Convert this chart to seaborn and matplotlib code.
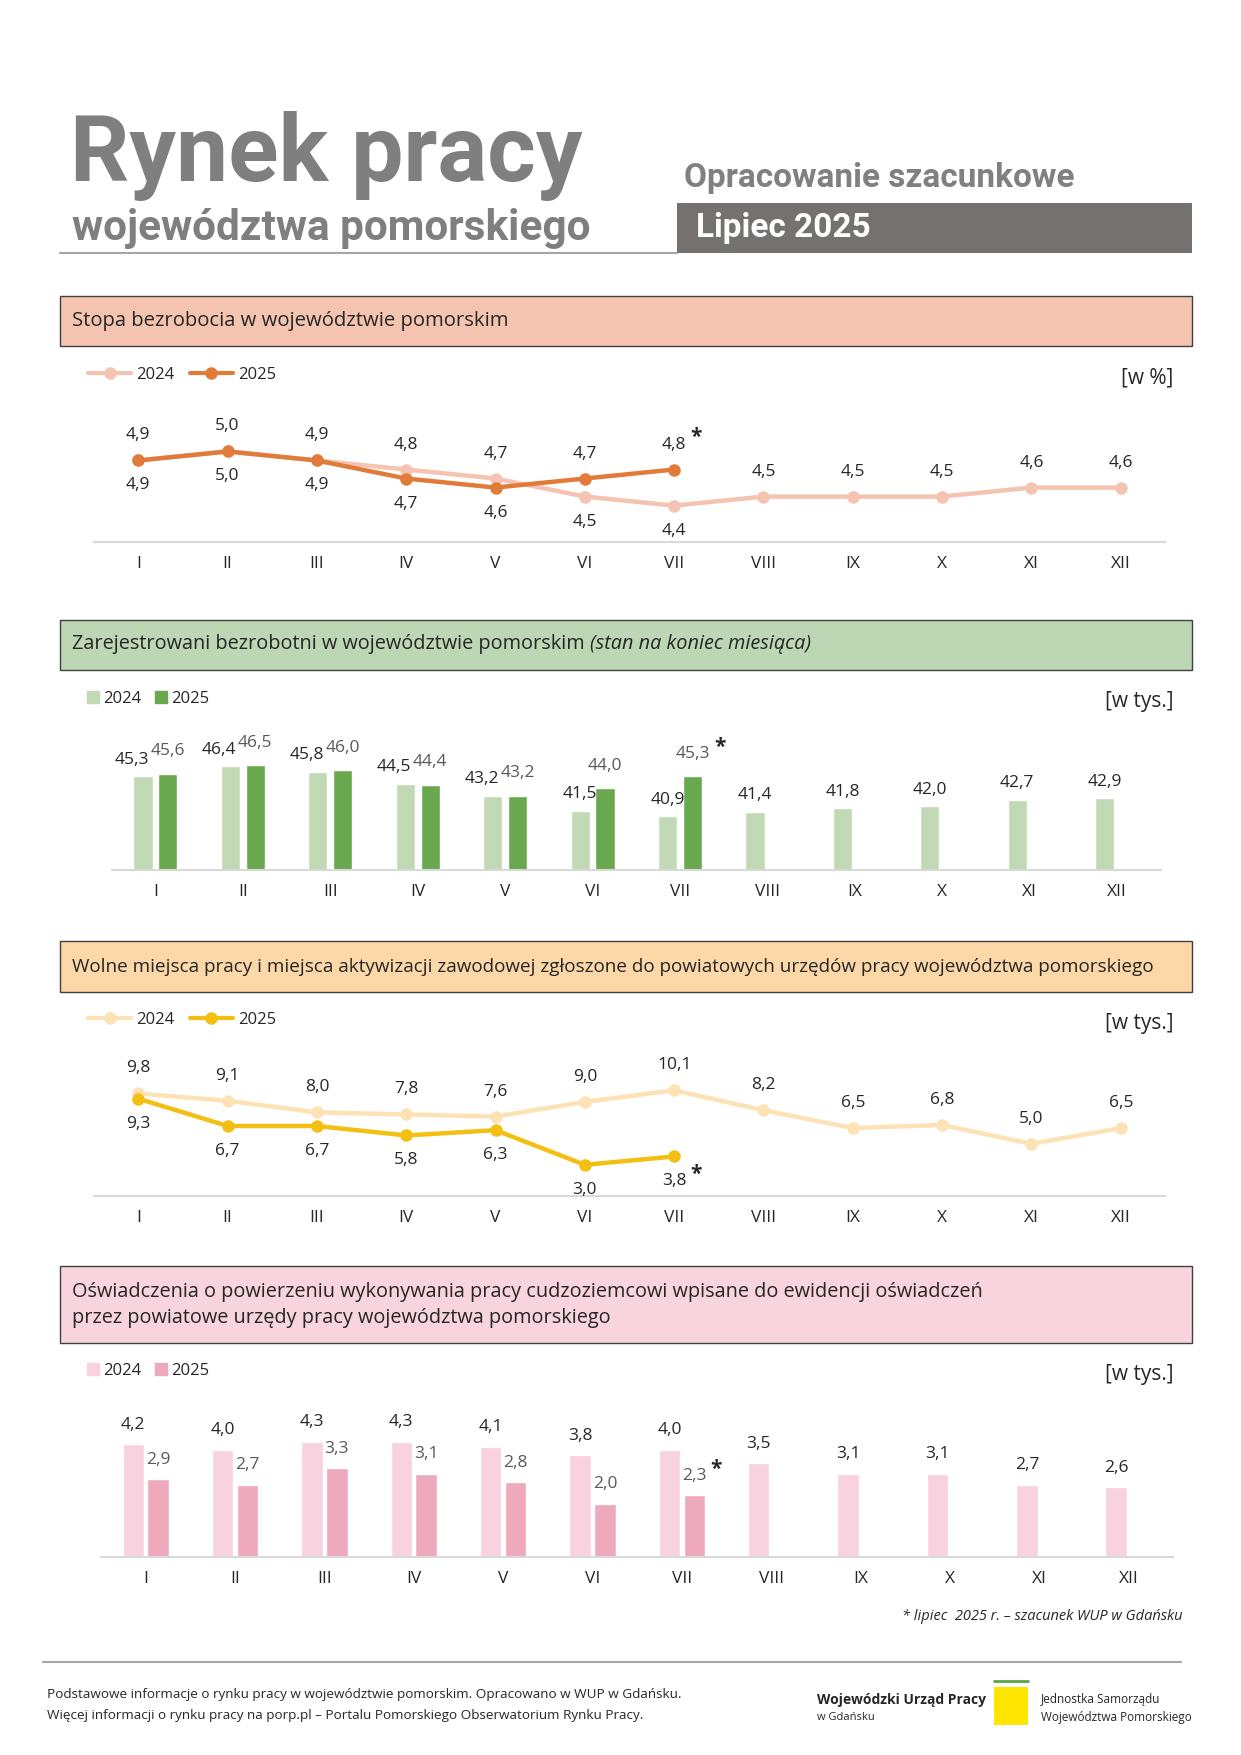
import matplotlib
matplotlib.use('Agg')
import matplotlib.pyplot as plt
from matplotlib.patches import Rectangle
from matplotlib.lines import Line2D
import numpy as np
import pandas as pd
import seaborn as sns

# === Data ===
months = ['I', 'II', 'III', 'IV', 'V', 'VI', 'VII', 'VIII', 'IX', 'X', 'XI', 'XII']
years = ['2024', '2025']

rate_2024 = [4.9, 5.0, 4.9, 4.8, 4.7, 4.5, 4.4, 4.5, 4.5, 4.5, 4.6, 4.6]
rate_2025 = [4.9, 5.0, 4.9, 4.7, 4.6, 4.7, 4.8]

unemp_2024 = [45.3, 46.4, 45.8, 44.5, 43.2, 41.5, 40.9, 41.4, 41.8, 42.0, 42.7, 42.9]
unemp_2025 = [45.6, 46.5, 46.0, 44.4, 43.2, 44.0, 45.3]

vac_2024 = [9.8, 9.1, 8.0, 7.8, 7.6, 9.0, 10.1, 8.2, 6.5, 6.8, 5.0, 6.5]
vac_2025 = [9.3, 6.7, 6.7, 5.8, 6.3, 3.0, 3.8]

decl_2024 = [4.2, 4.0, 4.3, 4.3, 4.1, 3.8, 4.0, 3.5, 3.1, 3.1, 2.7, 2.6]
decl_2025 = [2.9, 2.7, 3.3, 3.1, 2.8, 2.0, 2.3]

# === Style ===
sns.set_theme(style='white')
plt.rcParams['font.family'] = ['Open Sans', 'DejaVu Sans']
TITLE_FONT = ['Roboto', 'DejaVu Sans']
DARK = '#262626'
GREY = '#595959'
LABEL_SIZE = 12.5

# page grid (scaled to the figure)
W, H = 1100, 1555


def fx(x):
    return x / W


def fy(y):
    return 1 - y / H


fig = plt.figure(figsize=(12.41, 17.55), dpi=100)
fig.patch.set_facecolor('white')


def add_axes(x0, y0, x1, y1):
    return fig.add_axes([fx(x0), fy(y1), (x1 - x0) / W, (y1 - y0) / H])


def fmt(v):
    return f"{v:.1f}".replace('.', ',')


def long_frame(v24, v25):
    rows = [(m, '2024', v) for m, v in zip(months, v24)]
    rows += [(m, '2025', v) for m, v in zip(months, v25)]
    return pd.DataFrame(rows, columns=['month', 'year', 'value'])


def header(y0, y1, color, lines, size=14.3):
    fig.add_artist(Rectangle((fx(53), fy(y1)), (1057 - 53) / W, (y1 - y0) / H,
                             transform=fig.transFigure, facecolor=color,
                             edgecolor='#404040', lw=1))
    n = len(lines)
    step = 23
    mid = (y0 + y1) / 2
    for k, line in enumerate(lines):
        yy = mid + (k - (n - 1) / 2) * step
        fig.text(fx(64), fy(yy), line, fontsize=size, color=DARK, va='center')


def style_axis(ax, ylim):
    ax.set_xlim(-0.5, 11.5)
    ax.set_ylim(*ylim)
    sns.despine(ax=ax, left=True)
    ax.spines['bottom'].set_color('#d9d9d9')
    ax.spines['bottom'].set_linewidth(1.5)
    ax.set_yticks([])
    ax.set_xlabel('')
    ax.set_ylabel('')
    ax.tick_params(axis='x', length=0, pad=10, labelsize=12.5, labelcolor=DARK)
    ax.patch.set_alpha(0)


def legend(ax, x, y, colors, kind):
    if kind == 'line':
        handles = [Line2D([0], [0], color=colors[yr], lw=3, marker='o', markersize=8)
                   for yr in years]
        hl = 2.6
    else:
        handles = [Line2D([0], [0], color=colors[yr], lw=0, marker='s', markersize=8)
                   for yr in years]
        hl = 0.6
    ax.legend(handles, years, loc='center left', bbox_to_anchor=(fx(x), fy(y)),
              bbox_transform=fig.transFigure, frameon=False, ncol=2, fontsize=12,
              handlelength=hl, handletextpad=0.3, columnspacing=0.9,
              borderaxespad=0, borderpad=0)


def unit(text, y):
    fig.text(fx(1040), fy(y), text, fontsize=15, color=DARK, ha='right', va='center')


def star(ax, x, y, label, dx, dy, color=DARK):
    # put the estimate mark just right of the value label
    half = len(label) * LABEL_SIZE * 0.29
    ax.annotate('*', (x, y), xytext=(dx + half + 1, dy + 5), textcoords='offset points',
                ha='left', va='center', fontsize=15, fontweight='bold',
                color=color, annotation_clip=False)


def line_chart(ax, v24, v25, colors, ylim):
    df = long_frame(v24, v25)
    sns.lineplot(data=df, x='month', y='value', hue='year', palette=colors,
                 hue_order=years, marker='o', markersize=9, markeredgewidth=0,
                 linewidth=3.2, sort=False, legend=False, ax=ax)
    style_axis(ax, ylim)
    off = 18
    for i in range(len(months)):
        a = v24[i]
        if i >= len(v25):
            ax.annotate(fmt(a), (i, a), xytext=(0, off), textcoords='offset points',
                        ha='center', va='center', fontsize=LABEL_SIZE, color=DARK,
                        annotation_clip=False)
            continue
        b = v25[i]
        top, bot = (b, a) if b >= a else (a, b)
        ax.annotate(fmt(top), (i, top), xytext=(0, off), textcoords='offset points',
                    ha='center', va='center', fontsize=LABEL_SIZE, color=DARK,
                    annotation_clip=False)
        ax.annotate(fmt(bot), (i, bot), xytext=(0, -off), textcoords='offset points',
                    ha='center', va='center', fontsize=LABEL_SIZE, color=DARK,
                    annotation_clip=False)
        if i == len(v25) - 1:
            dy = off if b >= a else -off
            star(ax, i, b, fmt(b), 0, dy)


def bar_chart(ax, v24, v25, colors, ylim, width, gap, offs):
    df = long_frame(v24, v25)
    sns.barplot(data=df, x='month', y='value', hue='year', palette=colors,
                order=months, hue_order=years, width=width, gap=gap,
                saturation=1, errorbar=None, legend=False, ax=ax)
    style_axis(ax, ylim)
    for k, cont in enumerate(ax.containers):
        vals = v24 if k == 0 else v25
        for i, bar in enumerate(cont):
            if i >= len(vals):
                break
            v = vals[i]
            cx = bar.get_x() + bar.get_width() / 2
            dx = 0
            if offs['shift'] and k == 0 and i < len(v25) and abs(v24[i] - v25[i]) < 1.5:
                dx = -8
            color = DARK if k == 0 else GREY
            ax.annotate(fmt(v), (cx, v), xytext=(dx, offs[k]), textcoords='offset points',
                        ha='center', va='center', fontsize=LABEL_SIZE, color=color,
                        annotation_clip=False)
            if k == 1 and i == len(v25) - 1:
                star(ax, cx, v, fmt(v), dx, offs[k])


# === Page title ===
fig.text(fx(62), fy(160), 'Rynek pracy', fontsize=67, fontweight='bold',
         color='#7f7f7f', family=TITLE_FONT, va='baseline')
fig.text(fx(64), fy(213), 'województwa pomorskiego', fontsize=30.5, fontweight='bold',
         color='#7f7f7f', family=TITLE_FONT, va='baseline')
fig.text(fx(606), fy(166), 'Opracowanie szacunkowe', fontsize=24, fontweight='bold',
         color='#808080', family=TITLE_FONT, va='baseline')
fig.add_artist(Rectangle((fx(600), fy(224)), (1057 - 600) / W, 44 / H,
                         transform=fig.transFigure, facecolor='#767171', lw=0))
fig.text(fx(617), fy(202), 'Lipiec 2025', fontsize=24, fontweight='bold',
         color='white', family=TITLE_FONT, va='center')
fig.add_artist(Line2D([fx(53), fx(600)], [fy(224), fy(224)], transform=fig.transFigure,
                      color='#a6a6a6', lw=1.5))

# === 1. unemployment rate ===
header(262, 307, '#f4c4b1', ['Stopa bezrobocia w województwie pomorskim'], size=14.6)
c1 = {'2024': '#f5c3b1', '2025': '#e07b39'}
ax1 = add_axes(83, 360, 1033, 480)
line_chart(ax1, rate_2024, rate_2025, c1, (4.0, 5.5))
legend(ax1, 78, 332, c1, 'line')
unit('[w %]', 335)

# === 2. registered unemployed ===
fig.add_artist(Rectangle((fx(53), fy(594)), (1057 - 53) / W, 45 / H,
                         transform=fig.transFigure, facecolor='#bdd6b4',
                         edgecolor='#404040', lw=1))
t2 = fig.text(fx(64), fy(571), 'Zarejestrowani bezrobotni w województwie pomorskim ',
              fontsize=14.3, color=DARK, va='center')
renderer = fig.canvas.get_renderer()
bb = t2.get_window_extent(renderer).transformed(fig.transFigure.inverted())
fig.text(bb.x1, fy(571), '(stan na koniec miesiąca)', fontsize=14.3, color=DARK,
         va='center', style='italic')
c2 = {'2024': '#c1d9b5', '2025': '#6aa84f'}
ax2 = add_axes(99, 650, 1029, 771)
bar_chart(ax2, unemp_2024, unemp_2025, c2, (35, 50), 0.57, 0.23,
          {0: 12, 1: 16, 'shift': True})
legend(ax2, 78, 619, c2, 'bar')
unit('[w tys.]', 622)

# === 3. job offers ===
header(834, 879, '#fcd8a8', ['Wolne miejsca pracy i miejsca aktywizacji zawodowej zgłoszone '
                             'do powiatowych urzędów pracy województwa pomorskiego'], size=13.6)
c3 = {'2024': '#fde2b6', '2025': '#f4bf13'}
ax3 = add_axes(83, 940, 1033, 1060)
line_chart(ax3, vac_2024, vac_2025, c3, (0, 12.9))
legend(ax3, 78, 904, c3, 'line')
unit('[w tys.]', 907)

# === 4. declarations for foreigners ===
header(1122, 1190, '#f8d4df', ['Oświadczenia o powierzeniu wykonywania pracy cudzoziemcowi '
                               'wpisane do ewidencji oświadczeń',
                               'przez powiatowe urzędy pracy województwa pomorskiego'], size=14.3)
c4 = {'2024': '#f8d2de', '2025': '#eea9bd'}
ax4 = add_axes(89.5, 1250, 1040, 1380)
bar_chart(ax4, decl_2024, decl_2025, c4, (0, 5.44), 0.557, 0.14,
          {0: 14, 1: 14, 'shift': False})
legend(ax4, 78, 1215, c4, 'bar')
unit('[w tys.]', 1218)

fig.text(fx(1048), fy(1432), '* lipiec  2025 r. – szacunek WUP w Gdańsku', fontsize=10.5,
         style='italic', color=DARK, ha='right', va='center')

# === Footer ===
fig.add_artist(Line2D([fx(38), fx(1047)], [fy(1473), fy(1473)], transform=fig.transFigure,
                      color='#a6a6a6', lw=1.5))
fig.text(fx(42), fy(1501), 'Podstawowe informacje o rynku pracy w województwie pomorskim. '
         'Opracowano w WUP w Gdańsku.', fontsize=9.7, color=DARK, va='center')
fig.text(fx(42), fy(1520), 'Więcej informacji o rynku pracy na porp.pl – Portalu Pomorskiego '
         'Obserwatorium Rynku Pracy.', fontsize=9.7, color=DARK, va='center')
fig.text(fx(724), fy(1506), 'Wojewódzki Urząd Pracy', fontsize=10, fontweight='bold',
         color=DARK, va='center')
fig.text(fx(724), fy(1522), 'w Gdańsku', fontsize=8, color=DARK, va='center')
fig.add_artist(Line2D([fx(881), fx(911)], [fy(1489), fy(1489)], transform=fig.transFigure,
                      color='#5aa545', lw=2))
fig.add_artist(Rectangle((fx(881), fy(1528)), 30 / W, 33 / H, transform=fig.transFigure,
                         facecolor='#ffe500', lw=0))
fig.text(fx(923), fy(1506), 'Jednostka Samorządu', fontsize=8.5, color=DARK, va='center')
fig.text(fx(923), fy(1522), 'Województwa Pomorskiego', fontsize=8.5, color=DARK, va='center')

fig.savefig('out.png', dpi=100, facecolor='white')
